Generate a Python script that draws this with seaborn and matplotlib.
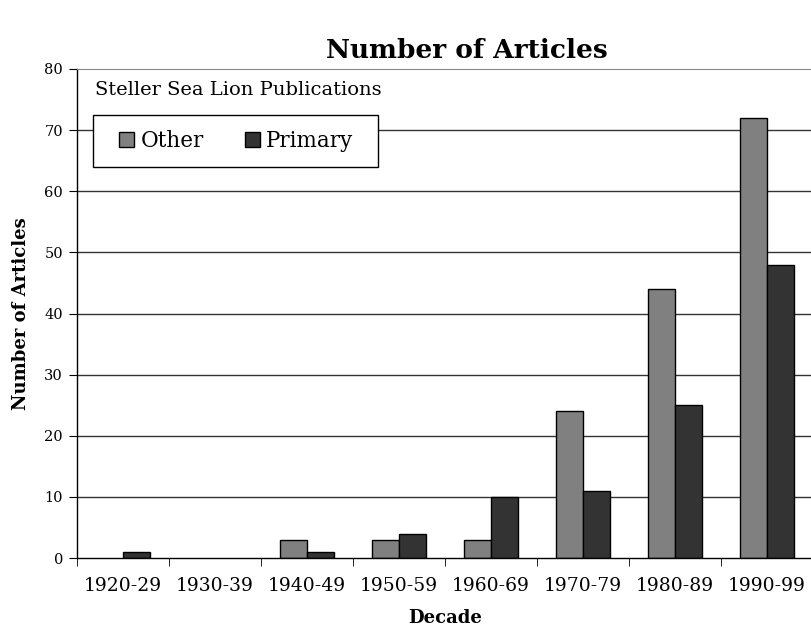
import matplotlib
matplotlib.use("Agg")
import matplotlib.pyplot as plt
from matplotlib.patches import Rectangle
import seaborn as sns
import numpy as np
import pandas as pd

# dados
decades = ['1920-29', '1930-39', '1940-49', '1950-59', '1960-69', '1970-79', '1980-89', '1990-99']
other = [0, 0, 3, 3, 3, 24, 44, 72]
primary = [1, 0, 1, 4, 10, 11, 25, 48]
series_names = ['Other', 'Primary']
y_ticks = [0, 10, 20, 30, 40, 50, 60, 70, 80]

df = pd.DataFrame({
    'Decade': decades * 2,
    'Count': other + primary,
    'Type': [series_names[0]] * len(decades) + [series_names[1]] * len(decades),
})

sns.set_style("white")
plt.rcParams['font.family'] = ['DejaVu Serif']
plt.rcParams['text.color'] = 'black'
plt.rcParams['axes.labelcolor'] = 'black'
plt.rcParams['xtick.color'] = 'black'
plt.rcParams['ytick.color'] = 'black'

fig = plt.figure(figsize=(8.11, 6.37), dpi=100)
W, H = 811, 637
AW, AH = 736, 489
ax = fig.add_axes([77 / W, 1 - 558 / H, AW / W, AH / H])

sns.barplot(
    data=df, x='Decade', y='Count', hue='Type', order=decades,
    hue_order=series_names, palette=['#808080', '#333333'],
    width=0.58, edgecolor='black', linewidth=1, saturation=1,
    ax=ax, legend=True,
)

# barras de altura zero não aparecem no original
for cont in ax.containers:
    for p in cont:
        if p.get_height() == 0:
            p.set_visible(False)

ax.set_xlim(-0.5, len(decades) - 0.5)
ax.set_ylim(0, 80)
ax.set_yticks(y_ticks)
ax.set_yticklabels([str(v) for v in y_ticks], fontsize=10.5)

# linhas de grade horizontais
for v in y_ticks[1:-1]:
    ax.axhline(v, color='#333333', lw=1, zorder=0)

for s in ['left', 'bottom']:
    ax.spines[s].set_color('black')
    ax.spines[s].set_linewidth(1)
ax.spines['right'].set_visible(False)
ax.spines['top'].set_color('#888888')

ax.set_xticks(range(len(decades)))
ax.set_xticklabels(decades, fontsize=13.5)
ax.tick_params(axis='x', which='major', length=0, pad=14)
ax.set_xticks(np.arange(-0.5, len(decades), 1), minor=True)
ax.tick_params(axis='x', which='minor', length=6, direction='out', color='black', bottom=True)
ax.tick_params(axis='y', length=6, direction='out', color='black', left=True, pad=4)

ax.set_xlabel('Decade', fontsize=13, fontweight='bold', labelpad=10)
ax.set_ylabel('Number of Articles', fontsize=13, fontweight='bold', labelpad=10)

fig.text(467 / W, 1 - 50 / H, 'Number of Articles', fontsize=19, fontweight='bold',
         ha='center', va='center')
ax.text(18 / AW, (558 - 90) / AH, 'Steller Sea Lion Publications', fontsize=14,
        transform=ax.transAxes, ha='left', va='center')

# caixa da legenda desenhada à parte (padding horizontal maior que o vertical)
box = Rectangle((16 / AW, (558 - 167) / AH), 285 / AW, 52 / AH, transform=ax.transAxes,
                facecolor='white', edgecolor='black', lw=1, zorder=4)
ax.add_patch(box)
leg = ax.legend(loc='center left', bbox_to_anchor=((119 - 77) / AW, (558 - 141) / AH), ncol=2,
                fontsize=15.5, frameon=False, handlelength=0.7,
                handleheight=0.7, handletextpad=0.3, columnspacing=1.9,
                borderpad=0, borderaxespad=0)
leg.set_zorder(5)

fig.savefig('out.png', dpi=100)
